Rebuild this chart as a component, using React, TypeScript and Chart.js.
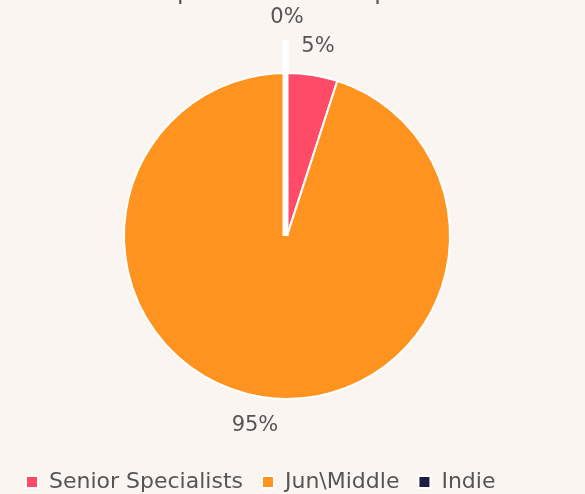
import React, { useEffect, useRef } from "react";
import { Chart, registerables } from "chart.js";

Chart.register(...registerables);

const titleText = "Specialists level split";
const categories = ["Senior Specialists", "Jun\\Middle", "Indie"];
const values = [5, 95, 0];
const percentLabels = ["5%", "95%", "0%"];
const colors = ["#ff4a68", "#ff931f", "#1b1d45"];

const BG = "#faf5f1";
const TEXT = "#555555";
const FONT = "'DejaVu Sans', 'Open Sans', sans-serif";
const LABEL_SIZE = 21;
const LABEL_PAD = 4;
const LABEL_OFFSET = 14;
const ZERO_OFFSET = 27;

const bgPlugin = {
  id: "bgFill",
  beforeDraw(chart: any) {
    const { ctx, width, height } = chart;
    ctx.save();
    ctx.fillStyle = BG;
    ctx.fillRect(0, 0, width, height);
    ctx.restore();
  },
};

const labelPlugin = {
  id: "outerLabels",
  afterDatasetsDraw(chart: any) {
    const { ctx } = chart;
    const meta = chart.getDatasetMeta(0);
    ctx.save();
    ctx.font = `${LABEL_SIZE}px ${FONT}`;
    meta.data.forEach((arc: any, i: number) => {
      const p = arc.getProps(["x", "y", "startAngle", "endAngle", "outerRadius"], true);
      const mid = (p.startAngle + p.endAngle) / 2;
      const vx = Math.cos(mid);
      const vy = Math.sin(mid);
      const isZero = values[i] === 0;
      const extra = isZero ? ZERO_OFFSET : 0;
      if (isZero) {
        ctx.strokeStyle = "#ffffff";
        ctx.lineWidth = 6;
        ctx.beginPath();
        const ox = -1.5;
        ctx.moveTo(p.x + ox, p.y);
        ctx.lineTo(p.x + ox + vx * (p.outerRadius + 33), p.y + vy * (p.outerRadius + 33));
        ctx.stroke();
      }
      const w = ctx.measureText(percentLabels[i]).width + LABEL_PAD * 2;
      const h = LABEL_SIZE + LABEL_PAD * 2;
      const vs = 1 / Math.max(Math.abs(vx), Math.abs(vy));
      const r = p.outerRadius + LABEL_OFFSET + extra;
      const x = p.x + vx * r + (w / 2) * vx * vs;
      const y = p.y + vy * r + (h / 2) * vy * vs;
      ctx.fillStyle = TEXT;
      ctx.textAlign = "center";
      ctx.textBaseline = "middle";
      ctx.fillText(percentLabels[i], x, y);
    });
    ctx.restore();
  },
};

export default function App() {
  const ref = useRef<HTMLCanvasElement | null>(null);
  useEffect(() => {
    document.body.style.background = BG;
    const chart = new Chart(ref.current as HTMLCanvasElement, {
      type: "pie",
      data: {
        labels: categories,
        datasets: [
          {
            data: values,
            backgroundColor: colors,
            borderColor: "#ffffff",
            borderWidth: 2,
          },
        ],
      },
      options: {
        animation: false,
        responsive: true,
        maintainAspectRatio: false,
        radius: 163,
        layout: { padding: { left: 7, right: 18, top: 0, bottom: 0 } },
        plugins: {
          title: {
            display: true,
            text: titleText,
            color: TEXT,
            font: { family: FONT, size: 24, weight: "normal" },
            padding: { top: 7, bottom: 13 },
          },
          legend: {
            position: "bottom",
            align: "start",
            labels: {
              color: TEXT,
              font: { family: FONT, size: 22 },
              boxWidth: 12,
              boxHeight: 12,
              padding: 19,
            },
          },
          tooltip: { enabled: false },
        },
      } as any,
      plugins: [bgPlugin, labelPlugin],
    });
    return () => chart.destroy();
  }, []);
  return (
    <div style={{ position: "fixed", top: -29, left: 0, width: 585, height: 532 }}>
      <canvas ref={ref} />
    </div>
  );
}
